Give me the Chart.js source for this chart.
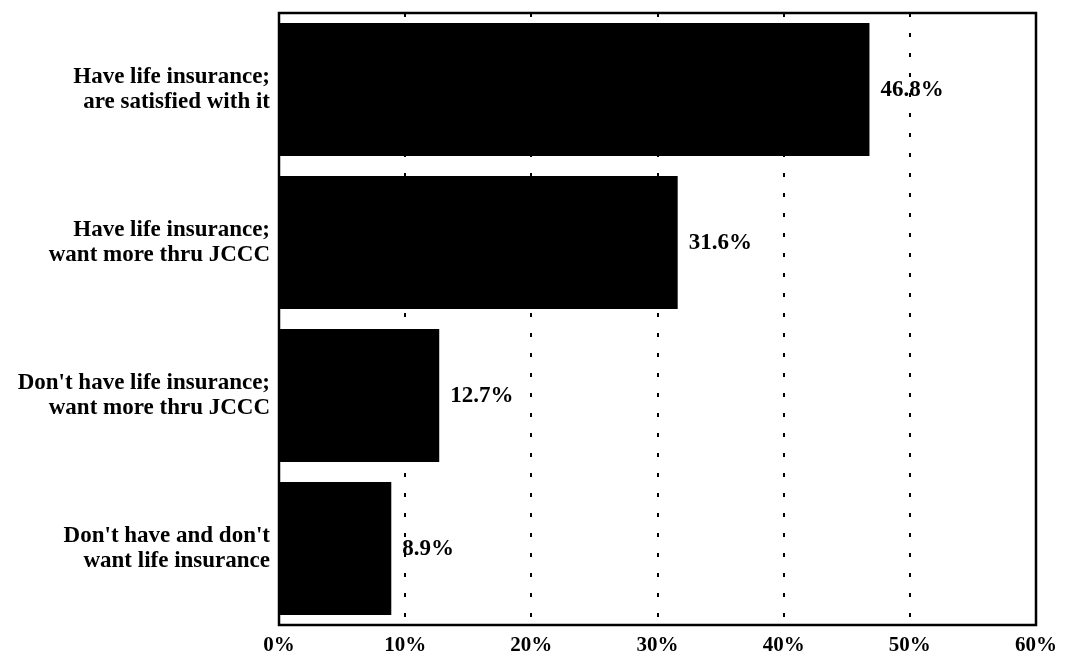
<!DOCTYPE html>
<html>
<head>
<meta charset="utf-8">
<script src="https://cdn.jsdelivr.net/npm/chart.js@4/dist/chart.umd.min.js"></script>
<style>
  html, body { margin: 0; padding: 0; background: #fff; }
  #wrap { width: 1068px; height: 656px; }
</style>
</head>
<body>
<div id="wrap"><canvas id="myChart" width="1068" height="656"></canvas></div>
<script>
// Категории (подписи по оси Y, по две строки)
const categories = [
  ['Have life insurance;', 'are satisfied with it'],
  ['Have life insurance;', 'want more thru JCCC'],
  ["Don't have life insurance;", 'want more thru JCCC'],
  ["Don't have and don't", 'want life insurance']
];
// Доли ответов, %
const values = [46.8, 31.6, 12.7, 8.9];
// Подписи оси X
const xTicks = ['0%', '10%', '20%', '30%', '40%', '50%', '60%'];

const serif = "'Liberation Serif', 'Times New Roman', serif";

// Подписи значений справа от столбцов
const valueLabels = {
  id: 'valueLabels',
  afterDatasetsDraw(chart) {
    const ctx = chart.ctx;
    const meta = chart.getDatasetMeta(0);
    ctx.save();
    ctx.fillStyle = '#000';
    ctx.font = 'bold 23px ' + serif;
    ctx.textAlign = 'left';
    ctx.textBaseline = 'middle';
    meta.data.forEach((bar, i) => {
      ctx.fillText(values[i].toFixed(1) + '%', bar.x + 11, bar.y + 1);
    });
    ctx.restore();
  }
};

// Рамка вокруг области графика
const frame = {
  id: 'frame',
  afterDraw(chart) {
    const a = chart.chartArea;
    const ctx = chart.ctx;
    ctx.save();
    ctx.strokeStyle = '#000';
    ctx.lineWidth = 2.5;
    ctx.strokeRect(a.left, a.top, a.right - a.left, a.bottom - a.top);
    ctx.restore();
  }
};

const config = {
  type: 'bar',
  data: {
    labels: categories,
    datasets: [{
      data: values,
      backgroundColor: '#000',
      borderWidth: 0,
      categoryPercentage: 1,
      barPercentage: 0.87
    }]
  },
  options: {
    indexAxis: 'y',
    responsive: false,
    animation: false,
    layout: { padding: { top: 13, right: 32, left: 0, bottom: 0 } },
    plugins: {
      legend: { display: false },
      tooltip: { enabled: false }
    },
    scales: {
      x: {
        min: 0,
        max: 60,
        ticks: {
          stepSize: 10,
          padding: 8,
          color: '#000',
          font: { family: serif, size: 21, weight: 'bold' },
          maxRotation: 0,
          callback: (v, i) => xTicks[i]
        },
        grid: {
          color: '#000',
          lineWidth: 2,
          drawTicks: false
        },
        border: { display: true, color: '#000', width: 2, dash: [4, 16] },
        afterFit(scale) {
          scale.height = 31;
          scale.paddingLeft = 0;
          scale.paddingRight = 0;
        }
      },
      y: {
        ticks: {
          padding: 9,
          color: '#000',
          font: { family: serif, size: 23, weight: 'bold', lineHeight: 1.1 }
        },
        grid: { display: false, drawTicks: false },
        border: { display: true, color: '#000', width: 2 },
        afterFit(scale) {
          scale.width = 279;
          scale.paddingTop = 0;
          scale.paddingBottom = 0;
        }
      }
    }
  },
  plugins: [valueLabels, frame]
};

const myChart = new Chart(document.getElementById('myChart'), config);
</script>
</body>
</html>
